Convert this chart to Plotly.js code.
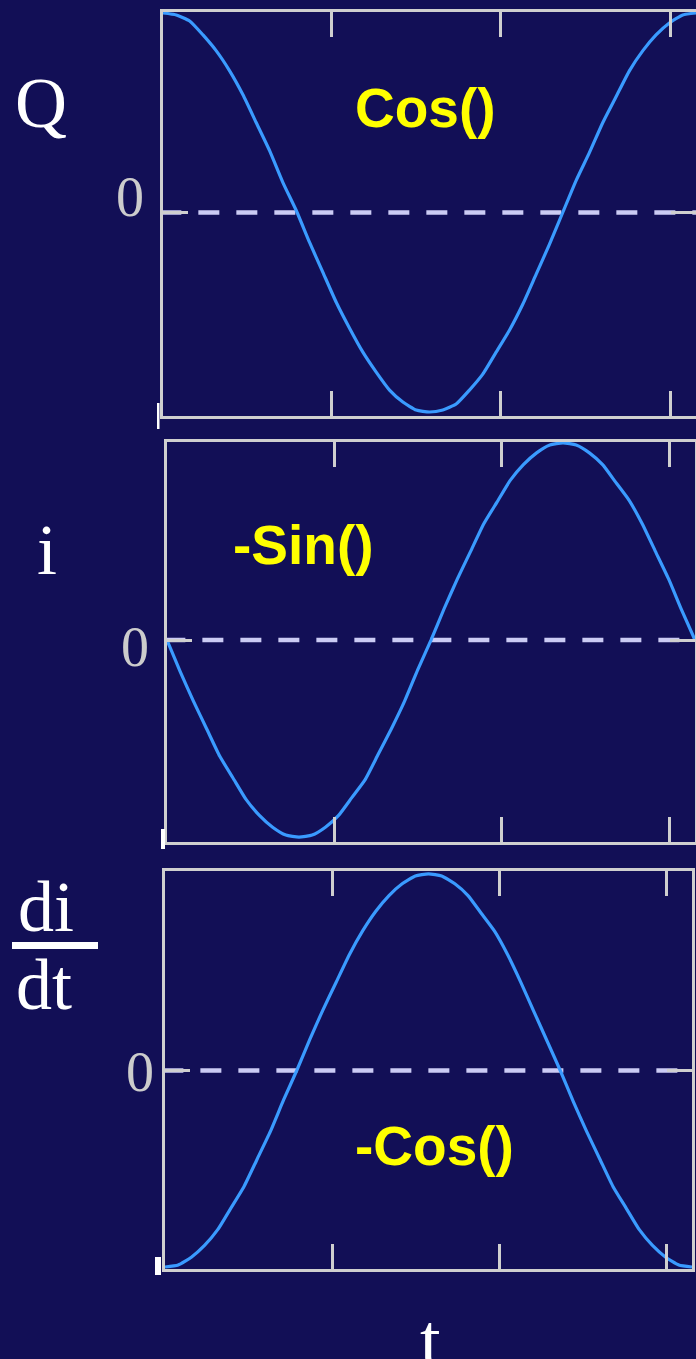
<!DOCTYPE html>
<html>
<head>
<meta charset="utf-8">
<script src="https://cdn.plot.ly/plotly-3.0.1.min.js"></script>
<style>html,body{margin:0;padding:0;background:#120f56;}#chart{width:696px;height:1359px;}</style>
</head>
<body>
<div id="chart"></div>
<script>
// ---- data (fraction of one period, normalised amplitude) ----
const tSamples = [0,0.025,0.05,0.075,0.1,0.125,0.15,0.175,0.2,0.225,0.25,0.275,0.3,0.325,0.35,0.375,0.4,0.425,0.45,0.475,0.5,0.525,0.55,0.575,0.6,0.625,0.65,0.675,0.7,0.725,0.75,0.775,0.8,0.825,0.85,0.875,0.9,0.925,0.95,0.975,1];
const qValues = [1.00,0.99,0.96,0.89,0.81,0.71,0.59,0.45,0.31,0.15,0.01,-0.15,-0.30,-0.45,-0.58,-0.70,-0.80,-0.89,-0.95,-0.99,-1.00,-0.99,-0.96,-0.89,-0.81,-0.70,-0.59,-0.46,-0.31,-0.16,0.00,0.16,0.30,0.45,0.58,0.71,0.81,0.89,0.95,0.99,1.00];
const iValues = [0.00,-0.16,-0.31,-0.45,-0.59,-0.70,-0.81,-0.89,-0.95,-0.99,-1.00,-0.99,-0.95,-0.89,-0.80,-0.71,-0.58,-0.45,-0.31,-0.15,0.00,0.16,0.31,0.45,0.59,0.70,0.81,0.89,0.95,0.99,1.00,0.99,0.95,0.89,0.80,0.71,0.59,0.45,0.31,0.15,0.00];
const didtValues = [-1.00,-0.99,-0.95,-0.89,-0.81,-0.70,-0.59,-0.45,-0.31,-0.15,0.00,0.16,0.31,0.45,0.59,0.71,0.81,0.89,0.95,0.99,1.00,0.99,0.95,0.89,0.80,0.71,0.59,0.45,0.30,0.15,0.00,-0.16,-0.31,-0.45,-0.59,-0.70,-0.81,-0.89,-0.95,-0.99,-1.00];
const xTickVals = [0.317,0.634,0.952];
const panelNames = ['Cos()','-Sin()','-Cos()'];

const W = 696, H = 1359;
const px = x => x / W;
const py = y => 1 - y / H;

const bg = '#120f56';
const axisCol = '#cfcfcf';
const curveCol = '#3a9bff';

// panel pixel boxes [left, right, top, bottom]
const boxes = [[163,696,12,416],[167,695,442,842],[165,692,871,1269]];
const yRanges = [[-1.02,1.005],[-1.025,1.005],[-1.01,1.015]];
const series = [qValues, iValues, didtValues];

const data = [];
const layout = {
  width: W, height: H,
  margin: {l:0,r:0,t:0,b:0},
  paper_bgcolor: bg, plot_bgcolor: bg,
  showlegend: false,
  shapes: [], annotations: []
};

boxes.forEach((b, k) => {
  const n = k === 0 ? '' : String(k+1);
  const yr = yRanges[k];
  data.push({
    x: tSamples, y: series[k], type: 'scatter', mode: 'lines',
    line: {color: curveCol, width: 3.2, shape: 'spline', smoothing: 0.5},
    xaxis: 'x' + n, yaxis: 'y' + n, hoverinfo: 'skip'
  });
  const common = {
    showline: true, linecolor: axisCol, linewidth: 3, mirror: 'allticks',
    ticks: 'inside', ticklen: 25, tickwidth: 3, tickcolor: axisCol,
    showticklabels: false, showgrid: false, zeroline: false, fixedrange: true
  };
  layout['xaxis' + n] = Object.assign({}, common, {
    domain: [px(b[0]), Math.min(1, px(b[1]))], range: [0, 1],
    tickmode: 'array', tickvals: xTickVals, anchor: 'y' + n
  });
  layout['yaxis' + n] = Object.assign({}, common, {
    domain: [py(b[3]), py(b[2])], range: yr,
    tickmode: 'array', tickvals: [yr[0] + 0.004, 0, yr[1] - 0.004], anchor: 'x' + n
  });
  // dashed zero line
  layout.shapes.push({
    type: 'line', xref: 'x' + n, yref: 'y' + n, x0: -0.005, x1: 1, y0: 0, y1: 0,
    line: {color: '#cbcbf4', width: 4.5, dash: '21px,17px'}, layer: 'below'
  });
});

// small white marks at the bottom-left corners
layout.shapes.push({type:'rect', xref:'paper', yref:'paper', x0:px(157), x1:px(159.5), y0:py(429), y1:py(403), fillcolor:'#ffffff', line:{width:0}});
layout.shapes.push({type:'rect', xref:'paper', yref:'paper', x0:px(161), x1:px(165), y0:py(849), y1:py(829), fillcolor:'#ffffff', line:{width:0}});
layout.shapes.push({type:'rect', xref:'paper', yref:'paper', x0:px(155), x1:px(161), y0:py(1275), y1:py(1257), fillcolor:'#ffffff', line:{width:0}});
// fraction bar
layout.shapes.push({type:'rect', xref:'paper', yref:'paper', x0:px(12), x1:px(98), y0:py(949), y1:py(942), fillcolor:'#ffffff', line:{width:0}});

const serif = 'Liberation Serif, Times New Roman, serif';
function ann(text, x, y, size, color, family, bold) {
  layout.annotations.push({
    text: bold ? '<b>' + text + '</b>' : text,
    xref: 'paper', yref: 'paper', x: px(x), y: py(y),
    xanchor: 'center', yanchor: 'middle', showarrow: false,
    font: {size: size, color: color, family: family}
  });
}
// variable labels
ann('Q', 41, 103, 72, '#ffffff', serif);
ann('i', 47, 550, 72, '#ffffff', serif);
ann('di', 46, 907, 72, '#ffffff', serif);
ann('dt', 44, 985, 72, '#ffffff', serif);
ann('t', 430, 1340, 74, '#ffffff', serif);
// zero labels
ann('0', 130, 197, 56, '#cccccc', serif);
ann('0', 135, 647, 56, '#cccccc', serif);
ann('0', 140, 1072, 56, '#cccccc', serif);
// function names
ann(panelNames[0], 425, 108, 55, '#ffff00', 'Liberation Sans, Arial, sans-serif', true);
ann(panelNames[1], 303, 545, 55, '#ffff00', 'Liberation Sans, Arial, sans-serif', true);
ann(panelNames[2], 434, 1146, 55, '#ffff00', 'Liberation Sans, Arial, sans-serif', true);

Plotly.newPlot('chart', data, layout, {displayModeBar: false, staticPlot: true});
</script>
</body>
</html>
